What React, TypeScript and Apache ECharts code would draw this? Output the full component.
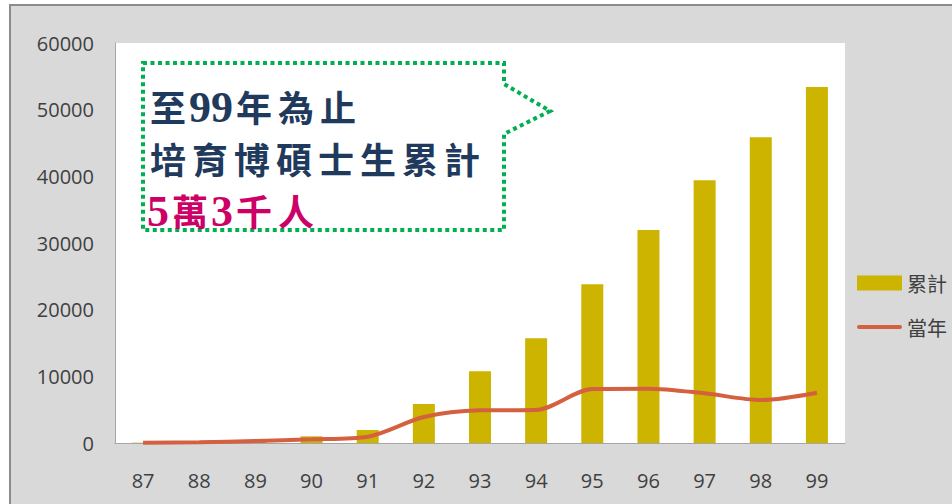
import React, { useEffect, useRef } from "react";
import * as echarts from "echarts";

// 學年度（民國）
const years = ["87", "88", "89", "90", "91", "92", "93", "94", "95", "96", "97", "98", "99"];
// 累計培育人數
const cumulative = [50, 150, 450, 1000, 1950, 5850, 10750, 15700, 23800, 31950, 39400, 45850, 53400];
// 當年培育人數
const annual = [50, 100, 300, 550, 950, 3900, 4900, 4950, 8100, 8150, 7450, 6450, 7550];

const seriesNames = ["累計", "當年"];
const yMin = 0;
const yMax = 60000;
const yStep = 10000;

const calloutLines = [
  { text: "至99年為止", color: "#1F3A5C" },
  { text: "培育博碩士生累計", color: "#1F3A5C" },
  { text: "5萬3千人", color: "#CC0066" },
];

const AXIS_FONT = '"Open Sans", "Noto Sans", sans-serif';
const CJK_FONT = '"Noto Sans CJK TC", sans-serif';

function buildCalloutText() {
  const els: any[] = [];
  calloutLines.forEach((line, i) => {
    let x = 147;
    const cy = 106 + i * 52;
    for (const ch of line.text) {
      const isDigit = /[0-9]/.test(ch);
      const w = isDigit ? 22 : 42;
      els.push({
        type: "text",
        z: 20,
        x: x + w / 2,
        y: cy + (isDigit ? 1 : 0),
        style: {
          text: ch,
          fill: line.color,
          font: isDigit ? 'bold 44px "Liberation Serif", serif' : `bold 36px ${CJK_FONT}`,
          textAlign: "center",
          textVerticalAlign: "middle",
        },
      });
      x += w;
    }
  });
  return els;
}

export default function App() {
  const ref = useRef<HTMLDivElement>(null);

  useEffect(() => {
    if (!ref.current) return;
    const chart = echarts.init(ref.current, null, { renderer: "svg" });
    chart.setOption({
      animation: false,
      backgroundColor: "transparent",
      grid: {
        left: 115,
        right: 107,
        top: 43,
        bottom: 61,
        show: true,
        backgroundColor: "#ffffff",
        borderWidth: 0,
      },
      legend: {
        orient: "vertical",
        left: 857,
        top: 273,
        padding: 0,
        itemWidth: 45,
        itemHeight: 15,
        itemGap: 24,
        textStyle: { fontFamily: CJK_FONT, fontSize: 20, color: "#404040" },
        data: [
          { name: seriesNames[0], icon: "rect" },
          { name: seriesNames[1], icon: "path://M2,0 L43,0 A2,2 0 0 1 43,4 L2,4 A2,2 0 0 1 2,0 Z" },
        ],
      },
      xAxis: {
        type: "category",
        data: years,
        axisLine: { show: true, lineStyle: { color: "#a6a6a6", width: 1 } },
        axisTick: { show: false },
        axisLabel: { color: "#404040", fontSize: 20, fontFamily: AXIS_FONT, margin: 27 },
      },
      yAxis: {
        type: "value",
        min: yMin,
        max: yMax,
        interval: yStep,
        axisLine: { show: true, lineStyle: { color: "#a6a6a6", width: 1 } },
        axisTick: { show: false },
        splitLine: { show: false },
        axisLabel: {
          color: "#404040",
          fontSize: 20,
          fontFamily: AXIS_FONT,
          margin: 21,
          formatter: (v: number) => String(v),
        },
      },
      series: [
        {
          name: seriesNames[0],
          type: "bar",
          data: cumulative,
          barWidth: 22,
          itemStyle: { color: "#CCB400" },
        },
        {
          name: seriesNames[1],
          type: "line",
          data: annual,
          smooth: 0.3,
          symbol: "none",
          lineStyle: { color: "#D5603F", width: 4 },
          itemStyle: { color: "#D5603F" },
          z: 3,
        },
      ],
      graphic: [
        {
          type: "polygon",
          z: 10,
          shape: {
            points: [
              [143, 63],
              [504, 63],
              [504, 84],
              [550, 111],
              [504, 134],
              [504, 230],
              [143, 230],
            ],
          },
          style: { fill: "#ffffff", stroke: "#00B050", lineWidth: 4, lineDash: [4, 3.5] },
        },
        ...buildCalloutText(),
      ],
    });
    return () => chart.dispose();
  }, []);

  return (
    <div style={{ position: "fixed", left: 0, top: 0, width: 952, height: 504, background: "#ffffff", overflow: "hidden" }}>
      <div
        style={{
          position: "absolute",
          left: 9,
          top: 4,
          right: 0,
          bottom: 0,
          background: "#d9d9d9",
          borderLeft: "2px solid #8c8c8c",
          borderTop: "2px solid #8c8c8c",
        }}
      />
      <div ref={ref} style={{ position: "absolute", left: 0, top: 0, width: 952, height: 504 }} />
    </div>
  );
}
